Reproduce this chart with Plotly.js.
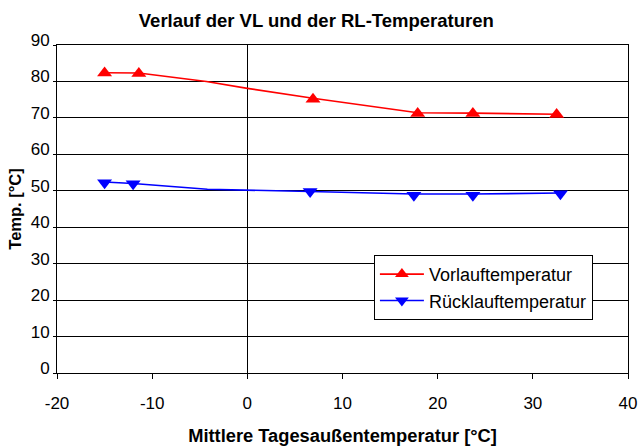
<!DOCTYPE html>
<html>
<head>
<meta charset="utf-8">
<script src="https://cdn.plot.ly/plotly-3.0.1.min.js"></script>
<style>html,body{margin:0;padding:0;background:#fff;}#chart{width:639px;height:446px;}</style>
</head>
<body>
<div id="chart"></div>
<script>
// Measured points (markers)
const vlX = [-15, -11.4, 6.9, 17.9, 23.7, 32.5];
const vlY = [82.3, 82.2, 75.1, 71.2, 71.2, 70.9];
const rlX = [-15, -12, 6.6, 17.5, 23.7, 32.9];
const rlY = [52.2, 51.9, 49.8, 48.8, 48.8, 49.2];
// Connecting curves as drawn
const vlLineX = [-15, -11.4, -4.3, 0, 6.9, 17.9, 23.7, 32.5];
const vlLineY = [82.4, 82.3, 80.0, 78.1, 75.4, 71.4, 71.3, 71.0];
const rlLineX = [-15, -12, -4.2, 0, 6.6, 17.5, 23.7, 32.9];
const rlLineY = [52.4, 52.0, 50.4, 50.1, 49.8, 49.1, 49.1, 49.4];
const names = ['Vorlauftemperatur', 'Rücklauftemperatur'];
const xTickVals = [-20, -10, 0, 10, 20, 30, 40];
const xTickText = ['-20', '-10', '0', '10', '20', '30', '40'];
const titleText = 'Verlauf der VL und der RL-Temperaturen';
const xTitle = 'Mittlere Tagesaußentemperatur [°C]';
const yTitle = 'Temp. [°C]';

const red = '#ff0000', blue = '#0000ff';
const font = 'Arial, "Liberation Sans", sans-serif';

const traces = [
  {x: vlLineX, y: vlLineY, mode: 'lines', line: {color: red, width: 1.6}, showlegend: false, hoverinfo: 'skip'},
  {x: rlLineX, y: rlLineY, mode: 'lines', line: {color: blue, width: 1.6}, showlegend: false, hoverinfo: 'skip'},
  {x: vlX, y: vlY, mode: 'markers', marker: {symbol: 'triangle-up', size: 13, color: red}, showlegend: false},
  {x: rlX, y: rlY, mode: 'markers', marker: {symbol: 'triangle-down', size: 13, color: blue}, showlegend: false},
  {x: [null], y: [null], name: names[0], mode: 'lines+markers', line: {color: red, width: 1.6}, marker: {symbol: 'triangle-up', size: 12, color: red}},
  {x: [null], y: [null], name: names[1], mode: 'lines+markers', line: {color: blue, width: 1.6}, marker: {symbol: 'triangle-down', size: 12, color: blue}}
];

const layout = {
  width: 639, height: 446,
  margin: {l: 57, r: 11, t: 45, b: 73},
  paper_bgcolor: '#fff', plot_bgcolor: '#fff',
  font: {family: font, size: 17, color: '#000'},
  title: {text: '<b>' + titleText + '</b>', x: 0.495, xref: 'container', xanchor: 'center', y: 0.955, yref: 'container', yanchor: 'middle', font: {family: font, size: 18.5, color: '#000'}},
  xaxis: {
    range: [-20, 40], tickmode: 'array', tickvals: xTickVals, ticktext: xTickText,
    showgrid: false, zeroline: true, zerolinecolor: '#000', zerolinewidth: 1,
    showline: true, linecolor: '#000', linewidth: 1, mirror: true,
    ticks: 'outside', ticklen: 5, tickcolor: '#000',
    ticklabelstandoff: 10,
    tickfont: {family: font, size: 17, color: '#000'},
    title: {text: '<b>' + xTitle + '</b>', font: {family: font, size: 18.3, color: '#000'}, standoff: 20}
  },
  yaxis: {
    range: [0, 90], dtick: 10,
    showgrid: true, gridcolor: '#000', gridwidth: 1,
    zeroline: false,
    showline: true, linecolor: '#000', linewidth: 1, mirror: true,
    ticks: 'outside', ticklen: 3, tickcolor: '#000',
    ticklabelshift: -5,
    tickfont: {family: font, size: 17, color: '#000'},
    title: {text: '<b>' + yTitle + '</b>', font: {family: font, size: 16.5, color: '#000'}, standoff: 4}
  },
  legend: {
    x: 0.555, y: 0.36, xanchor: 'left', yanchor: 'top',
    bgcolor: '#fff', bordercolor: '#000', borderwidth: 1,
    font: {family: font, size: 18, color: '#000'},
    itemwidth: 44,
    tracegroupgap: 0
  },
  showlegend: true
};

Plotly.newPlot('chart', traces, layout, {staticPlot: true, displayModeBar: false});
</script>
</body>
</html>
